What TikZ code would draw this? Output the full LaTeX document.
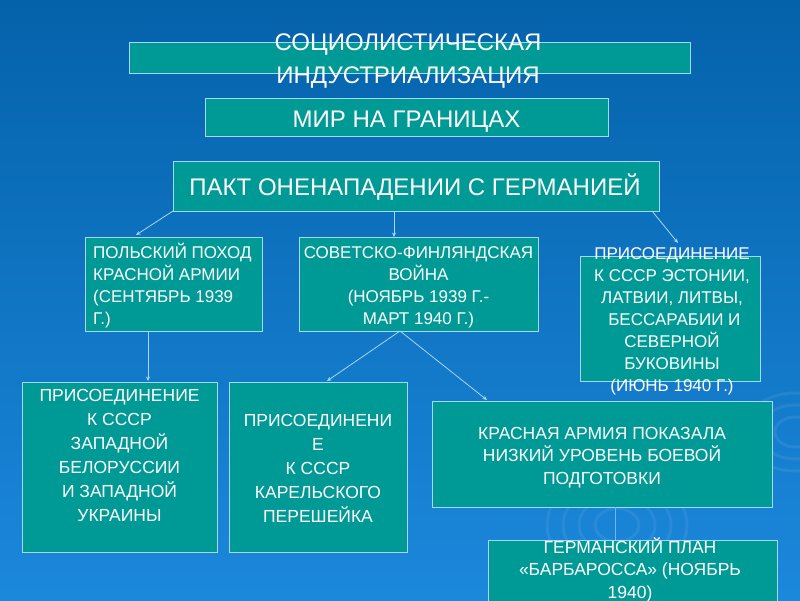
\documentclass[tikz,border=0pt]{standalone}
\usepackage{fontspec}
\setmainfont{Liberation Sans}
\usetikzlibrary{arrows.meta,calc}
\definecolor{bgtop}{HTML}{0462AA}
\definecolor{bgbot}{HTML}{1C88DC}
\definecolor{boxfill}{HTML}{009A96}
\definecolor{edge}{HTML}{A6D8F2}
\begin{document}
\begin{tikzpicture}[x=1pt,y=-1pt,
  box/.style={draw=edge, fill=boxfill, line width=0.9pt, inner sep=0pt, outer sep=0pt},
  txt/.style={text=white, inner sep=0pt, align=center, anchor=base},
  big/.style={font=\fontsize{24}{33}\selectfont},
  small/.style={font=\fontsize{17}{22}\selectfont},
  mid/.style={font=\fontsize{17.5}{24}\selectfont},
  conn/.style={draw=edge, line width=0.8pt, -{Stealth[length=4.5pt,width=4pt]}},
  faint/.style={draw=edge!60!bgbot, line width=0.8pt},
  ripple/.style={draw=white, opacity=0.07, line width=3pt}]
\useasboundingbox (0,0) rectangle (800,600);
\shade[top color=bgtop, bottom color=bgbot] (0,0) rectangle (800,600);
% faint ripples
\foreach \r in {22,38,54,70}{\draw[ripple] (617,525) ellipse ({\r} and {0.75*\r});}
\foreach \r in {20,36,52}{\draw[ripple] (795,432) ellipse ({\r} and {0.75*\r});}

% boxes (multi-line texts are placed by the baseline of their last line)
\node[box, minimum width=561, minimum height=31] (socind) at (409.5,57.5) {};
\node[txt,big] (socindT) at (408,83) {СОЦИОЛИСТИЧЕСКАЯ\\ИНДУСТРИАЛИЗАЦИЯ};

\node[box, minimum width=403, minimum height=38] (mir) at (406.5,117) {};
\node[txt,big] (mirT) at (406.5,127) {МИР НА ГРАНИЦАХ};

\node[box, minimum width=486, minimum height=50] (pakt) at (416,186) {};
\node[txt,big] (paktT) at (415,195) {ПАКТ ОНЕНАПАДЕНИИ С ГЕРМАНИЕЙ};

\node[box, minimum width=177, minimum height=94] (polish) at (173.5,284) {};
\node[txt,small,align=left,anchor=base west] (polishT) at (93,324) {ПОЛЬСКИЙ ПОХОД\\КРАСНОЙ АРМИИ\\(СЕНТЯБРЬ 1939\\Г.)};

\node[box, minimum width=239, minimum height=94] (sov) at (418.5,284) {};
\node[txt,small] (sovT) at (418.5,324) {СОВЕТСКО-ФИНЛЯНДСКАЯ\\ВОЙНА\\(НОЯБРЬ 1939 Г.-\\МАРТ 1940 Г.)};

\node[box, minimum width=180, minimum height=125] (balt) at (670,318.5) {};
\node[txt,small] (baltT) at (672,391) {ПРИСОЕДИНЕНИЕ\\К СССР ЭСТОНИИ,\\ЛАТВИИ, ЛИТВЫ,\\ \ БЕССАРАБИИ И\\СЕВЕРНОЙ\\БУКОВИНЫ\\(ИЮНЬ 1940 Г.)};

\node[box, minimum width=195, minimum height=170] (bel) at (119.5,467) {};
\node[txt,mid] (belT) at (119.5,521) {ПРИСОЕДИНЕНИЕ\\К СССР\\ЗАПАДНОЙ\\БЕЛОРУССИИ\\И ЗАПАДНОЙ\\УКРАИНЫ};

\node[box, minimum width=178, minimum height=170] (kar) at (318,467) {};
\node[txt,mid] (karT) at (318,522) {ПРИСОЕДИНЕНИ\\Е\\К СССР\\КАРЕЛЬСКОГО\\ПЕРЕШЕЙКА};

\node[box, minimum width=340, minimum height=106] (red) at (602,454) {};
\node[txt,font=\fontsize{17.5}{22.5}\selectfont] (redT) at (602,484) {КРАСНАЯ АРМИЯ ПОКАЗАЛА\\НИЗКИЙ УРОВЕНЬ БОЕВОЙ\\ПОДГОТОВКИ};

\node[box, minimum width=289, minimum height=80] (barb) at (632.5,580) {};
\node[txt,font=\fontsize{17.5}{22.5}\selectfont] (barbT) at (630,598) {ГЕРМАНСКИЙ ПЛАН\\«БАРБАРОССА» (НОЯБРЬ\\1940)};

% connector end points
\coordinate (paktL) at (pakt.south west);
\coordinate (polishIn) at ($(polish.north west)+(51,-2)$);
\coordinate (paktM) at ($(pakt.south west)+(221,0)$);
\coordinate (sovIn) at ($(sov.north west)+(95,0)$);
\coordinate (paktR) at ($(pakt.south east)+(-7,0)$);
\coordinate (baltIn) at ($(balt.north west)+(98,-13)$);
\coordinate (polishOut) at ($(polish.south west)+(63,0)$);
\coordinate (belIn) at ($(bel.north west)+(126,-1)$);
\coordinate (sovOut) at ($(sov.south west)+(101,0)$);
\coordinate (karIn) at ($(kar.north west)+(98,-1)$);
\coordinate (redIn) at ($(red.north west)+(55,-1)$);
\coordinate (redOut) at ($(red.south west)+(183,0)$);
\coordinate (barbIn) at ($(barb.north west)+(127,0)$);

\draw[conn] (paktL) -- (polishIn);
\draw[conn] (paktM) -- (sovIn);
\draw[conn] (paktR) -- (baltIn);
\draw[conn] (polishOut) -- (belIn);
\draw[conn] (sovOut) -- (karIn);
\draw[conn] (sovOut) -- (redIn);
\draw[faint] (redOut) -- (barbIn);
\end{tikzpicture}
\end{document}
